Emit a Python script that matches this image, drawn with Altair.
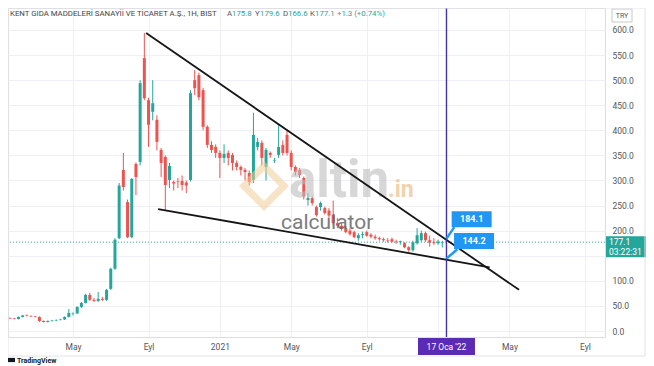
import altair as alt
import pandas as pd

W, H = 597, 329
FONT = "Roboto"
GREEN = "#26a69a"
RED = "#ef5350"

# ---- weekly OHLC (KENT, BIST, 1H) ----
dates = pd.date_range("2020-01-13", periods=105, freq="7D").strftime("%Y-%m-%d").tolist()
opens = [27, 26, 25, 24, 28, 31, 30, 29, 28, 20, 18, 20, 21, 22, 23, 28, 34, 35, 48, 56,
         72, 62, 60, 64, 62, 84, 124, 185, 321, 257, 187, 333, 337, 544, 460, 437, 421, 361, 347, 301,
         297, 299, 299, 296, 301, 500, 510, 480, 407, 371, 367, 355, 345, 355, 351, 335, 327, 321, 315, 301,
         367, 375, 327, 355, 339, 351, 371, 391, 355, 327, 321, 305, 261, 265, 247, 247, 245, 240, 231, 215,
         210, 205, 200, 197, 185, 191, 197, 192, 188, 185, 183, 181, 183, 178, 177, 175, 167, 161, 175, 181,
         195, 181, 177, 175, 175.8]
highs = [28, 27, 26, 29, 32, 33, 31, 30, 29, 21, 21, 22, 23, 24, 29, 44, 37, 49, 58, 74,
         76, 66, 78, 68, 84, 126, 185, 295, 355, 262, 305, 336, 500, 594, 465, 500, 430, 365, 350, 335,
         300, 305, 310, 300, 480, 520, 515, 485, 410, 378, 372, 360, 372, 360, 355, 340, 330, 325, 320, 435,
         385, 380, 365, 358, 345, 411, 380, 400, 360, 330, 325, 308, 275, 268, 250, 258, 248, 245, 260, 225,
         215, 210, 205, 200, 195, 198, 200, 195, 192, 188, 186, 185, 186, 182, 180, 177, 169, 180, 205, 200,
         198, 190, 185, 182, 179.6]
lows = [25, 24, 23, 23, 27, 29, 28, 27, 18, 17, 17, 19, 20, 21, 22, 27, 31, 34, 46, 55,
        60, 58, 58, 60, 60, 82, 122, 183, 280, 185, 185, 271, 330, 460, 367, 420, 360, 307, 241, 285,
        280, 285, 280, 275, 298, 470, 460, 400, 365, 355, 345, 305, 335, 330, 320, 320, 310, 300, 290, 295,
        360, 330, 300, 345, 335, 345, 350, 350, 320, 310, 305, 262, 250, 250, 228, 240, 232, 225, 212, 205,
        200, 195, 190, 185, 180, 185, 188, 185, 182, 180, 178, 176, 176, 174, 172, 165, 158, 158, 172, 178,
        178, 168, 172, 172, 166.6]
closes = [26, 25, 24, 28, 31, 30, 29, 28, 20, 18, 20, 21, 22, 23, 28, 36, 35, 48, 56, 72,
          62, 60, 64, 62, 82, 124, 182, 290, 287, 187, 303, 307, 494, 464, 411, 454, 377, 335, 291, 329,
          294, 298, 291, 290, 474, 484, 466, 407, 371, 361, 355, 345, 353, 345, 335, 327, 321, 317, 297, 391,
          377, 345, 361, 351, 340, 367, 355, 355, 327, 317, 311, 268, 265, 255, 231, 255, 235, 230, 215, 210,
          205, 197, 193, 187, 191, 193, 190, 188, 185, 183, 181, 180, 178, 177, 179, 167, 161, 177, 191, 195,
          181, 176, 175, 178, 177.1]

df = pd.DataFrame({"date": dates, "open": opens, "high": highs, "low": lows, "close": closes})

# trend lines drawn on the chart
trend_id = ["upper", "upper", "lower", "lower"]
trend_date = ["2020-09-03", "2022-05-18", "2020-09-23", "2022-03-30"]
trend_price = [594, 82, 243, 127]

marker_date = "2022-01-17"
marker_label = "17 Oca '22"
callout_text = ["184.1", "144.2"]
callout_price = [184.1, 144.2]
callout_box_date = ["2022-02-28", "2022-03-04"]
callout_box_price = [223, 179.4]
callout_tip_date = ["2022-01-30", "2022-02-04"]
callout_tip_price = [207, 163]

last_close = 177.1
countdown = "03:22:31"
title = "KENT GIDA MADDELERİ SANAYİİ VE TİCARET A.Ş., 1H, BIST"
hdr_letters = ["A", "Y", "D", "K"]
hdr_values = ["175.8", "179.6", "166.6", "177.1"]
hdr_change = "+1.3 (+0.74%)"

y_ticks = [0, 50, 100, 150, 200, 250, 300, 350, 400, 450, 500, 550, 600]
# first weekly bar of each labelled month
x_ticks = [(2020, 5, 4), (2020, 9, 7), (2021, 1, 4), (2021, 5, 3), (2021, 9, 6), (2022, 1, 3),
           (2022, 5, 2), (2022, 9, 5)]

xs = alt.Scale(type="utc", domain=[alt.DateTime(year=2020, month=1, date=16, hours=14, utc=True),
                                   alt.DateTime(year=2022, month=10, date=8, hours=10, utc=True)])
ys = alt.Scale(domain=[-11.96, 643.85], nice=False, zero=False)

x_vals = [alt.DateTime(year=y, month=m, date=d, utc=True) for (y, m, d) in x_ticks]
x_axis = alt.Axis(values=x_vals, title=None, ticks=False, domain=False, grid=True,
                  gridColor="#eef0f5", labelColor="#555", labelFont=FONT, labelFontSize=8.5,
                  labelPadding=5,
                  labelExpr="utcmonth(datum.value)==4 ? 'May' : utcmonth(datum.value)==8 ? 'Eyl' : utcyear(datum.value)==2021 ? '2021' : ''")
y_axis = alt.Axis(values=y_ticks, orient="right", title=None, ticks=False,
                  domain=False, grid=True, gridColor="#eef0f5", labelColor="#555",
                  labelFont=FONT, labelFontSize=8.5, labelPadding=7,
                  labelExpr="datum.value == 150 ? '' : format(datum.value, '.1f')")


def X(field):
    return alt.X(field, scale=xs, axis=x_axis)


def Y(field):
    return alt.Y(field, scale=ys, axis=y_axis)


color_cond = alt.condition("datum.close >= datum.open", alt.value(GREEN), alt.value(RED))
base = alt.Chart(df)
wicks = base.mark_rule(strokeWidth=1, clip=True).encode(
    x=X("date:T"), y=Y("low:Q"), y2="high:Q", color=color_cond)
bodies = base.mark_rule(strokeWidth=3, clip=True).encode(
    x=X("date:T"), y=Y("open:Q"), y2="close:Q", color=color_cond)

one = pd.DataFrame({"a": [0]})

price_line = alt.Chart(pd.DataFrame({"p": [last_close]})).mark_rule(
    color=GREEN, strokeDash=[1, 2], strokeWidth=1).encode(y=Y("p:Q"))

trend = alt.Chart(pd.DataFrame({"id": trend_id, "date": trend_date, "price": trend_price})).mark_line(
    color="#151515", strokeWidth=1.8).encode(x=X("date:T"), y=Y("price:Q"), detail="id:N")

vline = alt.Chart(pd.DataFrame({"d": [marker_date]})).mark_rule(color="#4433a6", strokeWidth=1.4).encode(
    x=X("d:T"))

# watermark
wm = [
    alt.Chart(one).mark_text(text="altin", font=FONT, fontSize=51, fontWeight="bold", color="#bdbdbd",
                             opacity=0.6, align="left", baseline="alphabetic").encode(
        x=alt.value(281), y=alt.value(189)),
    alt.Chart(one).mark_text(text=".in", font=FONT, fontSize=23, fontWeight="bold", color="#e8b574",
                             opacity=0.6, align="left", baseline="alphabetic").encode(
        x=alt.value(380), y=alt.value(189)),
    alt.Chart(one).mark_text(text="calculator", font=FONT, fontSize=21, color="#666666",
                             opacity=0.85, align="left", baseline="alphabetic").encode(
        x=alt.value(273), y=alt.value(221)),
    alt.Chart(one).mark_point(shape="M0,-1L1,0L0,1L-1,0Z", size=1600, filled=False, strokeWidth=7,
                              color="#f1cd96", opacity=0.55).encode(x=alt.value(256), y=alt.value(178)),
]

# callouts
cdf = pd.DataFrame({"t": callout_text, "bd": callout_box_date, "bp": callout_box_price})
ptr_rows = []
for i in range(2):
    ptr_rows.append({"k": i, "date": marker_date, "price": callout_price[i]})
    ptr_rows.append({"k": i, "date": callout_tip_date[i], "price": callout_tip_price[i]})
pointers = alt.Chart(pd.DataFrame(ptr_rows)).mark_line(color="#2196f3", strokeWidth=2.5).encode(
    x=X("date:T"), y=Y("price:Q"), detail="k:N")
boxes = alt.Chart(cdf).mark_point(shape="M-1,-0.4H1V0.4H-1Z", size=1600, filled=True, color="#2196f3",
                                  opacity=1, strokeWidth=0).encode(x=X("bd:T"), y=Y("bp:Q"))
box_text = alt.Chart(cdf).mark_text(color="white", font=FONT, fontSize=9, fontWeight="bold").encode(
    x=X("bd:T"), y=Y("bp:Q"), text="t:N")

# date tag on the time axis
tag_df = pd.DataFrame({"d": [marker_date], "t": [marker_label]})
date_tag = alt.Chart(tag_df).mark_point(shape="M-1,-0.298H1V0.298H-1Z", size=3249, filled=True,
                                        color="#5b2bb3", opacity=1, strokeWidth=0).encode(
    x=X("d:T"), y=alt.value(H + 9.5))
date_tag_text = alt.Chart(tag_df).mark_text(color="white", font=FONT, fontSize=8.5).encode(
    x=X("d:T"), y=alt.value(H + 9.5), text="t:N")

# price tag on the price axis
pt_df = pd.DataFrame({"p": [last_close], "t": [f"{last_close:.1f}"], "c": [countdown]})
price_tag = alt.Chart(pt_df).mark_point(shape="M-1,-0.3H1V0.75H-1Z", size=1600, filled=True, color=GREEN,
                                        opacity=1, strokeWidth=0).encode(x=alt.value(W + 21), y=Y("p:Q"))
price_tag_t1 = alt.Chart(pt_df).mark_text(color="white", font=FONT, fontSize=8.5, align="left").encode(
    x=alt.value(W + 4), y=Y("p:Q"), text="t:N")
price_tag_t2 = alt.Chart(pt_df).mark_text(color="white", font=FONT, fontSize=8.5, align="left", dy=10).encode(
    x=alt.value(W + 4), y=Y("p:Q"), text="c:N")

# TRY box
try_box = alt.Chart(one).mark_point(shape="M-1,-0.65H1V0.65H-1Z", size=400, filled=False, color="#c8c8c8",
                                    strokeWidth=1, opacity=1).encode(x=alt.value(W + 17), y=alt.value(7.5))
try_text = alt.Chart(one).mark_text(text="TRY", font=FONT, fontSize=7, color="#555").encode(
    x=alt.value(W + 17), y=alt.value(8))

# header
HF = 7.8
hdr = [alt.Chart(one).mark_text(text=title, font=FONT, fontSize=HF, color="#444", align="left").encode(
    x=alt.value(2), y=alt.value(6))]
hx = [219, 247, 275, 302]
for i in range(4):
    hdr.append(alt.Chart(one).mark_text(text=hdr_letters[i], font=FONT, fontSize=HF, color="#555",
                                        align="left").encode(x=alt.value(hx[i]), y=alt.value(6)))
    hdr.append(alt.Chart(one).mark_text(text=hdr_values[i], font=FONT, fontSize=HF, color=GREEN,
                                        align="left").encode(x=alt.value(hx[i] + 5), y=alt.value(6)))
hdr.append(alt.Chart(one).mark_text(text=hdr_change, font=FONT, fontSize=HF, color=GREEN,
                                    align="left").encode(x=alt.value(329), y=alt.value(6)))

frame = alt.Chart(one).mark_rect(fillOpacity=0, stroke="#e0e3eb", strokeWidth=1).encode(
    x=alt.value(0), x2=alt.value(W + 40), y=alt.value(0), y2=alt.value(H + 19))
tv_icon = alt.Chart(one).mark_point(shape="M-1,-0.6H1V0.6H-1Z", size=49, filled=True, color="#131722",
                                    opacity=1, strokeWidth=0).encode(x=alt.value(3.5), y=alt.value(H + 23))
tv_text = alt.Chart(one).mark_text(text="TradingView", font=FONT, fontSize=7, color="#131722",
                                   align="left", fontWeight="bold").encode(x=alt.value(9), y=alt.value(H + 23.5))

chart = alt.layer(
    wicks, bodies, price_line, *wm, trend, vline, pointers, boxes, box_text,
    date_tag, date_tag_text, price_tag, price_tag_t1, price_tag_t2, try_box, try_text,
    *hdr, frame, tv_icon, tv_text
).properties(
    width=W, height=H,
    autosize=alt.AutoSizeParams(type="none"),
    padding={"left": 0, "top": 0, "right": 41, "bottom": 29},
).configure_view(stroke="#e0e3eb").configure(background="white")

chart.save("out.html", embed_options={"renderer": "svg", "actions": False})
